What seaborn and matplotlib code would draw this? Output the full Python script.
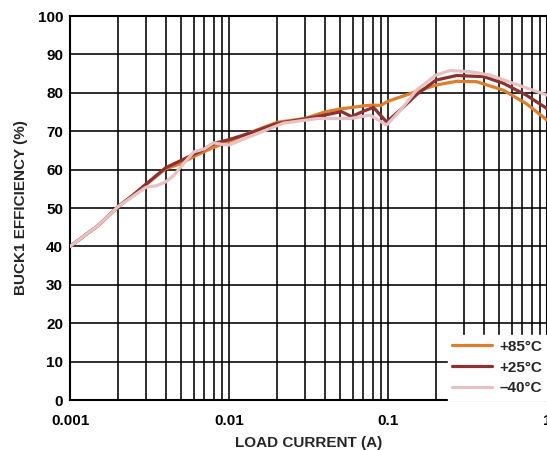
import numpy as np
import pandas as pd
import matplotlib
matplotlib.use("Agg")
import matplotlib.pyplot as plt
import seaborn as sns
from matplotlib.ticker import LogLocator, FixedLocator, FixedFormatter, NullFormatter

# Load current (A) and efficiency (%) for each temperature
current_85 = [0.001, 0.0015, 0.002, 0.0025, 0.003, 0.0035, 0.004, 0.005, 0.006, 0.007,
              0.008, 0.01, 0.0135, 0.02, 0.03, 0.04, 0.05, 0.06, 0.07, 0.08, 0.09,
              0.1, 0.15, 0.2, 0.27, 0.36, 0.53, 0.74, 1.0]
eff_85 = [40, 45.4, 50.3, 53.4, 56.0, 58.3, 60.2, 61.6, 63.4, 64.7,
          65.8, 67.3, 69.6, 72.3, 73.3, 75.0, 75.8, 76.2, 76.6, 76.8, 76.7,
          77.8, 80.3, 82.0, 83.0, 82.9, 80.7, 77.2, 72.9]

current_25 = [0.001, 0.0015, 0.002, 0.0025, 0.003, 0.0035, 0.004, 0.005, 0.006, 0.007,
              0.008, 0.01, 0.0135, 0.02, 0.03, 0.04, 0.051, 0.059, 0.07, 0.081, 0.09,
              0.098, 0.12, 0.15, 0.2, 0.27, 0.4, 0.53, 0.74, 1.0]
eff_25 = [40, 45.4, 50.3, 53.4, 56.2, 58.5, 60.5, 62.4, 64.0, 65.3,
          66.8, 67.8, 69.5, 72.0, 73.2, 74.2, 75.1, 73.8, 75.2, 76.2, 74.1,
          72.4, 75.6, 79.4, 83.3, 84.5, 84.2, 82.5, 79.4, 75.9]

current_m40 = [0.001, 0.0015, 0.002, 0.0025, 0.003, 0.0035, 0.004, 0.0045, 0.005, 0.006,
               0.007, 0.008, 0.009, 0.01, 0.0135, 0.022, 0.036, 0.058, 0.077, 0.098,
               0.12, 0.151, 0.2, 0.245, 0.33, 0.44, 0.61, 1.0]
eff_m40 = [40, 45.4, 50.3, 53.1, 55.4, 55.8, 56.8, 58.5, 60.8, 64.6,
           65.4, 67.0, 66.6, 66.4, 68.6, 72.1, 73.3, 73.3, 74.2, 71.6,
           75.5, 80.7, 84.6, 85.8, 85.5, 84.6, 82.5, 79.4]

labels = ["+85°C", "+25°C", "\u201340°C"]
colors = ["#DE7E2D", "#8E3030", "#E8C2C2"]

df = pd.concat([
    pd.DataFrame({"current": current_85, "eff": eff_85, "temp": labels[0]}),
    pd.DataFrame({"current": current_25, "eff": eff_25, "temp": labels[1]}),
    pd.DataFrame({"current": current_m40, "eff": eff_m40, "temp": labels[2]}),
], ignore_index=True)

sns.set_style("white")
plt.rcParams["font.family"] = ["Liberation Sans", "DejaVu Sans"]
plt.rcParams["font.weight"] = "bold"

fig = plt.figure(figsize=(5.47, 4.5), dpi=100)
ax = fig.add_axes([70 / 547, 50 / 450, 477 / 547, 384 / 450])

sns.lineplot(data=df, x="current", y="eff", hue="temp", hue_order=labels,
             palette=colors, estimator=None, sort=True, linewidth=2.3, ax=ax,
             zorder=3)

ax.set_xscale("log")
ax.set_xlim(0.001, 1)
ax.set_ylim(0, 100)

ax.xaxis.set_major_locator(FixedLocator([0.001, 0.01, 0.1, 1]))
ax.xaxis.set_major_formatter(FixedFormatter(["0.001", "0.01", "0.1", "1"]))
ax.xaxis.set_minor_locator(LogLocator(base=10, subs=np.arange(2, 10)))
ax.xaxis.set_minor_formatter(NullFormatter())
ax.set_yticks(np.arange(0, 101, 10))

ax.grid(True, which="major", color="black", linewidth=1.15)
ax.grid(True, which="minor", axis="x", color="black", linewidth=1.15)
ax.set_axisbelow(True)

for s in ax.spines.values():
    s.set_color("black")
    s.set_linewidth(1.5)

ax.tick_params(axis="y", which="both", length=0, labelsize=11, pad=5,
               colors="black")
ax.tick_params(axis="x", which="both", length=0, labelsize=11, pad=10,
               colors="black")
for lbl in ax.get_xticklabels() + ax.get_yticklabels():
    lbl.set_fontweight("bold")

ax.set_xlabel("LOAD CURRENT (A)", fontsize=11, fontweight="bold", labelpad=6)
ax.set_ylabel("BUCK1 EFFICIENCY (%)", fontsize=11, fontweight="bold", labelpad=7)

leg = ax.legend(loc="lower right", frameon=True, fancybox=False, framealpha=1,
                edgecolor="white", fontsize=11, handlelength=2.6,
                handletextpad=0.5, labelspacing=0.45, borderpad=0.3,
                borderaxespad=0.0)
leg.set_title(None)
leg.set_zorder(5)
for t in leg.get_texts():
    t.set_fontweight("bold")
for line in leg.get_lines():
    line.set_linewidth(2.3)

fig.savefig("out.png", dpi=100)
